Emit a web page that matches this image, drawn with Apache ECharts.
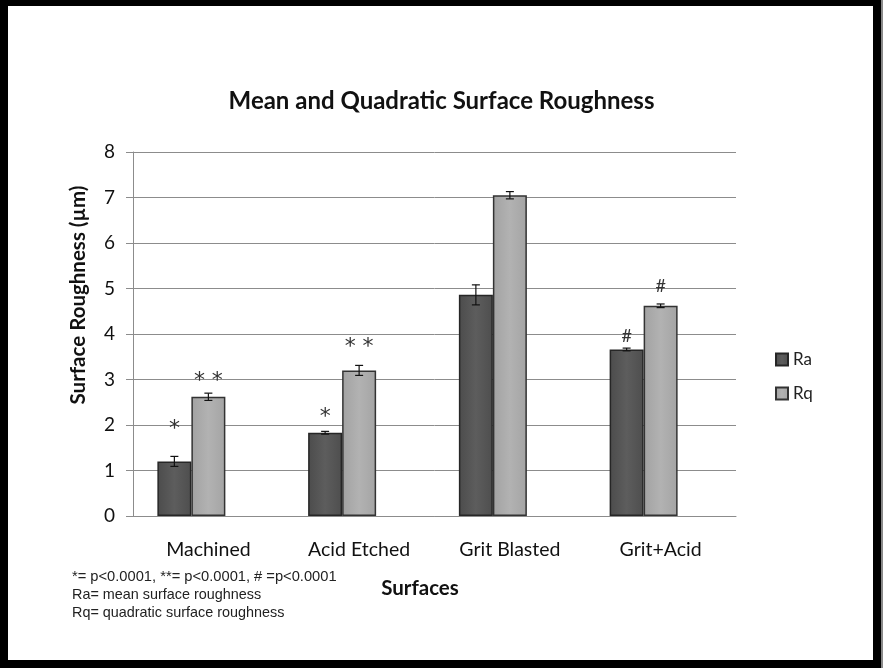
<!DOCTYPE html>
<html>
<head>
<meta charset="utf-8">
<script src="https://cdn.jsdelivr.net/npm/echarts@6/dist/echarts.min.js"></script>
<style>
  html, body { margin: 0; padding: 0; background: #fff; }
  #chart { width: 883px; height: 668px; }
</style>
</head>
<body>
<div id="chart"></div>
<script>
// Surface categories and roughness measurements (µm)
const categories = ['Machined', 'Acid Etched', 'Grit Blasted', 'Grit+Acid'];
const raValues = [1.2, 1.83, 4.86, 3.66];
const rqValues = [2.62, 3.2, 7.05, 4.62];
const raErrors = [0.11, 0.03, 0.22, 0.03];
const rqErrors = [0.08, 0.11, 0.08, 0.04];
// significance markers shown above each bar
const raMarks = ['*', '*', '', '#'];
const rqMarks = ['* *', '* *', '', '#'];
const yTicks = [0, 1, 2, 3, 4, 5, 6, 7, 8];

// vertical gap between a bar top and its marker
const raMarkGap = [21, 4, 0, 4];
const rqMarkGap = [5, 12, 0, 11];

const chart = echarts.init(document.getElementById('chart'));

const BAR_W = 34;

function barData(values, marks, gaps) {
  return values.map((v, i) => ({
    value: v,
    label: {
      show: marks[i] !== '',
      formatter: marks[i],
      position: 'top',
      distance: gaps[i],
      fontFamily: marks[i] === '#' ? 'Lato' : 'DejaVu Sans',
      fontSize: marks[i] === '#' ? 18 : 22,
      color: '#333'
    }
  }));
}

// error bars drawn over each bar; offset = bar centre relative to category centre
function errorSeries(values, errors, offset) {
  return {
    type: 'custom',
    z: 10,
    silent: true,
    data: values.map((v, i) => [i, v - errors[i], v + errors[i]]),
    renderItem: function (params, api) {
      const lo = api.coord([api.value(0), api.value(1)]);
      const hi = api.coord([api.value(0), api.value(2)]);
      const x = lo[0] + offset;
      const cap = 4;
      const style = { stroke: '#111', lineWidth: 1.2 };
      return {
        type: 'group',
        children: [
          { type: 'line', shape: { x1: x, y1: lo[1], x2: x, y2: hi[1] }, style },
          { type: 'line', shape: { x1: x - cap, y1: lo[1], x2: x + cap, y2: lo[1] }, style },
          { type: 'line', shape: { x1: x - cap, y1: hi[1], x2: x + cap, y2: hi[1] }, style }
        ]
      };
    }
  };
}

const raFill = new echarts.graphic.LinearGradient(0, 0, 1, 0, [
  { offset: 0, color: '#4c4c4c' },
  { offset: 0.5, color: '#5d5d5d' },
  { offset: 1, color: '#4e4e4e' }
]);
const rqFill = new echarts.graphic.LinearGradient(0, 0, 1, 0, [
  { offset: 0, color: '#a2a2a2' },
  { offset: 0.5, color: '#b2b2b2' },
  { offset: 1, color: '#a4a4a4' }
]);

chart.setOption({
  animation: false,
  backgroundColor: '#fff',
  title: {
    text: 'Mean and Quadratic Surface Roughness',
    left: 'center',
    top: 84,
    textStyle: { fontFamily: 'Lato', fontWeight: 'bold', fontSize: 24, color: '#111' }
  },
  legend: {
    data: ['Ra', 'Rq'],
    orient: 'vertical',
    left: 770,
    top: 346,
    itemWidth: 12,
    itemHeight: 12,
    itemGap: 17,
    icon: 'rect',
    textStyle: { fontFamily: 'Lato', fontSize: 17, color: '#222' }
  },
  grid: { left: 133, right: 147, top: 152, bottom: 152, containLabel: false },
  xAxis: {
    type: 'category',
    data: categories,
    axisLine: { lineStyle: { color: '#8c8c8c', width: 1 } },
    axisTick: { show: false },
    axisLabel: { fontFamily: 'Lato', fontSize: 19.5, color: '#111', margin: 24 }
  },
  yAxis: {
    type: 'value',
    min: yTicks[0],
    max: yTicks[yTicks.length - 1],
    interval: 1,
    axisLine: { show: true, lineStyle: { color: '#8c8c8c', width: 1 } },
    axisTick: { show: true, length: 7, lineStyle: { color: '#8c8c8c' } },
    axisLabel: { fontFamily: 'Lato', fontSize: 19, color: '#111', margin: 18 },
    splitLine: { lineStyle: { color: '#8c8c8c', width: 1 } }
  },
  series: [
    {
      name: 'Ra',
      type: 'bar',
      barWidth: BAR_W,
      barGap: '0%',
      data: barData(raValues, raMarks, raMarkGap),
      itemStyle: { color: raFill, borderColor: '#262626', borderWidth: 1.5 }
    },
    {
      name: 'Rq',
      type: 'bar',
      barWidth: BAR_W,
      barGap: '0%',
      data: barData(rqValues, rqMarks, rqMarkGap),
      itemStyle: { color: rqFill, borderColor: '#333', borderWidth: 1.5 }
    },
    // empty third slot keeps each pair left of the category centre
    {
      name: 'slot',
      type: 'bar',
      barWidth: BAR_W,
      barGap: '0%',
      data: categories.map(() => null)
    },
    errorSeries(raValues, raErrors, -BAR_W),
    errorSeries(rqValues, rqErrors, 0)
  ],
  graphic: [
    // black frame around the figure
    { type: 'rect', z: -10, silent: true, shape: { x: 0, y: 0, width: 883, height: 668 }, style: { fill: '#000' } },
    { type: 'rect', z: -9, silent: true, shape: { x: 8, y: 6, width: 865, height: 654 }, style: { fill: '#fff' } },
    { type: 'rect', z: -9, silent: true, shape: { x: 881, y: 0, width: 2, height: 668 }, style: { fill: '#8a8a8a' } },
    // axis titles
    {
      type: 'text', x: 78, y: 295, rotation: Math.PI / 2,
      style: { text: 'Surface Roughness (µm)', align: 'center', verticalAlign: 'middle', fontFamily: 'Lato', fontWeight: 'bold', fontSize: 20.5, fill: '#111' }
    },
    {
      type: 'text', x: 420, y: 588,
      style: { text: 'Surfaces', align: 'center', verticalAlign: 'middle', fontFamily: 'Lato', fontWeight: 'bold', fontSize: 20.5, fill: '#111' }
    },
    // footnotes
    { type: 'text', left: 72, top: 569, style: { text: '*= p<0.0001, **= p<0.0001, # =p<0.0001', fontFamily: 'Liberation Sans', fontSize: 14.7, fill: '#222' } },
    { type: 'text', left: 72, top: 588, style: { text: 'Ra= mean surface roughness', fontFamily: 'Liberation Sans', fontSize: 14.4, fill: '#222' } },
    { type: 'text', left: 72, top: 606, style: { text: 'Rq= quadratic surface roughness', fontFamily: 'Liberation Sans', fontSize: 14.4, fill: '#222' } }
  ]
});
</script>
</body>
</html>
